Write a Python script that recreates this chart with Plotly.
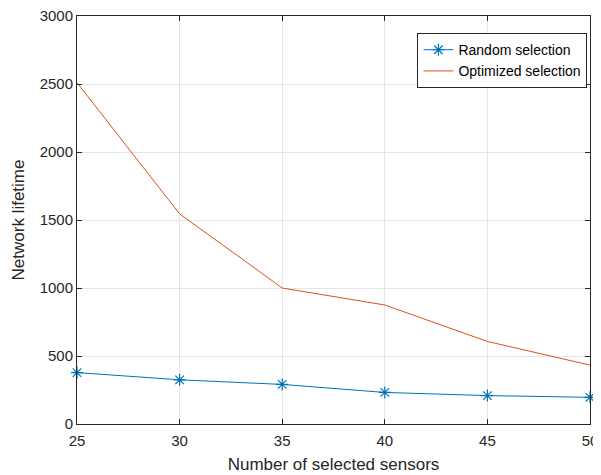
import plotly.graph_objects as go

sensors = [25, 30, 35, 40, 45, 50]
random_sel = [378, 325, 291, 232, 209, 196]
optimized_sel = [2510, 1545, 1000, 875, 607, 433]
x_ticks = [25, 30, 35, 40, 45, 50]
y_ticks = [0, 500, 1000, 1500, 2000, 2500, 3000]

FONT = "Liberation Sans, Arial, Helvetica, sans-serif"

fig = go.Figure()
fig.add_trace(go.Scatter(
    x=sensors, y=random_sel, mode="lines+markers", name="Random selection",
    line=dict(color="#0072BD", width=1),
    marker=dict(symbol="asterisk-open", size=10, color="#0072BD", line=dict(width=1.2, color="#0072BD")),
    cliponaxis=False,
))
fig.add_trace(go.Scatter(
    x=sensors, y=optimized_sel, mode="lines", name="Optimized selection",
    line=dict(color="#D95319", width=1),
    cliponaxis=False,
))

axis_common = dict(
    showgrid=True, gridcolor="#E5E5E5", gridwidth=1,
    showline=True, linecolor="#262626", linewidth=1, mirror="ticks",
    ticks="inside", ticklen=5, tickcolor="#262626",
    zeroline=False, ticklabeloverflow="allow", automargin=False,
    tickfont=dict(family=FONT, size=15, color="#262626"),
    title_font=dict(family=FONT, size=17, color="#262626"),
)

fig.update_xaxes(range=[25, 50], tickvals=x_ticks, title_text="Number of selected sensors",
                 ticklabelstandoff=3, title_standoff=10, **axis_common)
fig.update_yaxes(range=[0, 3000], tickvals=y_ticks, title_text="Network lifetime",
                 title_standoff=10, **axis_common)

fig.update_layout(
    width=601, height=475,
    margin=dict(l=69, r=19, t=8, b=59, autoexpand=False),
    plot_bgcolor="white", paper_bgcolor="white",
    font=dict(family=FONT, size=15, color="#262626"),
    legend=dict(
        x=0.995, y=0.958, xanchor="right", yanchor="top",
        bordercolor="#262626", borderwidth=1, bgcolor="white",
        font=dict(family=FONT, size=14, color="#000000"),
        tracegroupgap=0, itemwidth=30,
    ),
)

fig.write_html("out.html")
